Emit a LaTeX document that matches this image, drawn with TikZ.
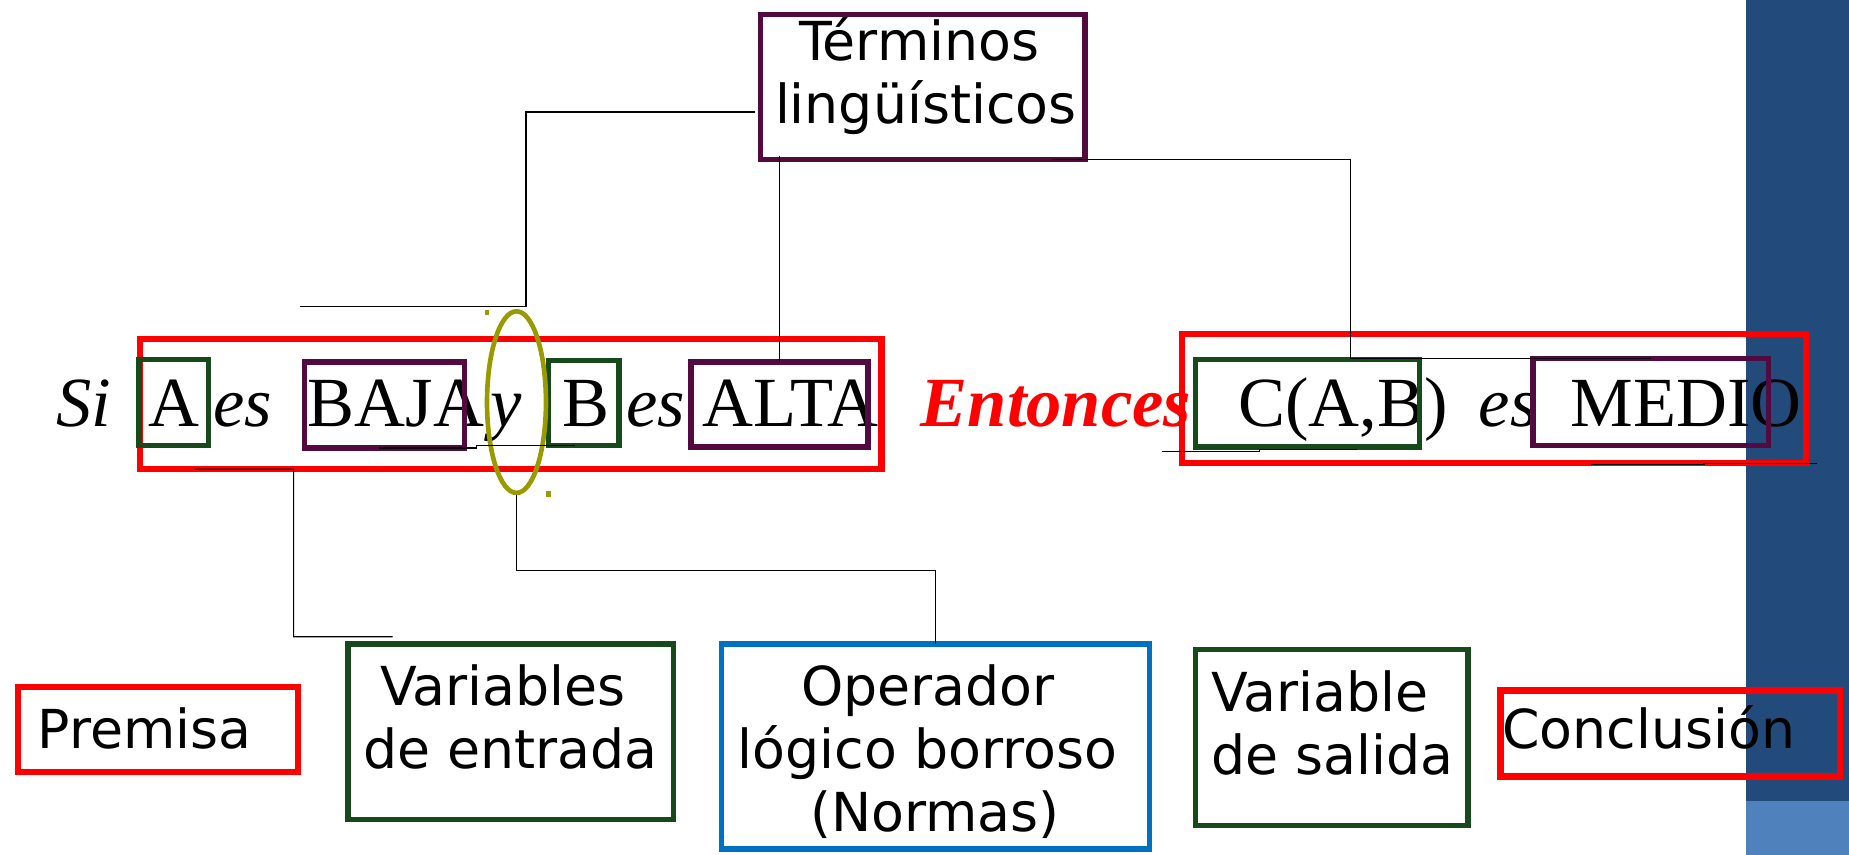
\documentclass[tikz,border=0pt]{standalone}
\usepackage{fontspec}
\setmainfont{DejaVu Sans}
\newfontfamily\tnr{Liberation Serif}
\usetikzlibrary{calc,shapes.geometric}
\definecolor{purp}{HTML}{520A40}
\definecolor{dgreen}{HTML}{174A1A}
\definecolor{olivec}{HTML}{999900}
\definecolor{oblue}{HTML}{0070C0}
\definecolor{bardark}{HTML}{224B7C}
\definecolor{barlight}{HTML}{4F81BD}
\newcommand\fr[6]{\node[#1, minimum width={(#4-#2)*0.025cm}, minimum height={(#5-#3)*0.025cm}] (#6) at ({(#2+#4)/2},{(#3+#5)/2}) {};}
\tikzset{
  frame/.style={draw, inner sep=0pt, outer sep=0pt, line width=3.2pt, rectangle},
  pbox/.style={frame, draw=purp},
  gbox/.style={frame, draw=dgreen},
  rbox/.style={frame, draw=red, line width=3.8pt},
  bbox/.style={frame, draw=oblue},
  sans/.style={inner sep=0pt, outer sep=0pt, anchor=base west, font=\fontsize{32.4}{38}\selectfont},
  sansc/.style={sans, anchor=base},
  serif/.style={inner sep=0pt, outer sep=0pt, anchor=base west, font=\tnr\fontsize{42.5}{50}\selectfont},
  serit/.style={serif, font=\tnr\itshape\fontsize{42.5}{50}\selectfont},
  conn/.style={draw=black, line width=0.75pt}
}
\begin{document}
\begin{tikzpicture}[x=0.025cm, y=-0.025cm]
\useasboundingbox (0,0) rectangle (1568,725);
% right bar
\fill[bardark] (1481,0) rectangle (1568,679);
\fill[barlight] (1481,679) rectangle (1568,725);

% top box
\fr{pbox}{645}{12}{920}{135}{terms}
\node[sansc] (termsA) at (779.5,51) {Términos};
\node[sansc] (termsB) at (785,105) {lingüísticos};

% rule text
\node[serit] (si) at (48,362) {Si};
\node[serif] (tA) at (126,362) {A};
\node[serit] (es1) at (181,362) {es};
\node[serif] (tBAJA) at (261,362) {BAJA};
\node[serit] (ty) at (416,362) {y};
\node[serif] (tB) at (477,362) {B};
\node[serit] (es2) at (531,362) {es};
\node[serif] (tALTA) at (596,362) {ALTA};
\node[serif, font=\tnr\bfseries\itshape\fontsize{42.5}{50}\selectfont, text=red] (ent) at (781,362) {Entonces};
\node[serif] (tC) at (1050,362) {C(A,B)};
\node[serit] (es3) at (1254,362) {es};
\node[serif] (tMED) at (1332,362) {MEDIO};

% frames in rule
\fr{rbox}{118.5}{287.5}{747.5}{397.5}{premBox}
\fr{gbox}{118}{305}{177}{378}{Abox}
\fr{pbox}{258}{307}{394}{380}{BAJAbox}
\fr{gbox}{465}{306}{525}{378}{Bbox}
\fr{pbox}{586}{307}{736}{379}{ALTAbox}
\fr{rbox}{1002.5}{283.5}{1531.5}{392.5}{concBox}
\fr{gbox}{1014}{305}{1204}{379}{Cbox}
\fr{pbox}{1300}{304}{1500}{378}{MEDIObox}
\node[ellipse, draw=olivec, line width=2.8pt, inner sep=0pt, minimum width=50*0.025cm, minimum height=154*0.025cm] (ell) at (438,341) {};
\fill[olivec] (411,262.5) rectangle (415,267.5);
\fill[olivec] (463,416.5) rectangle (467,421.5);

% bottom boxes
\fr{rbox}{15.5}{582.5}{252.5}{654.5}{premisa}
\node[sans] (premisaT) at (32,634.5) {Premisa};
\fr{gbox}{295}{546}{571}{695}{varEnt}
\node[sansc] (varEntA) at (426.5,598) {Variables};
\node[sansc] (varEntB) at (433,651.5) {de entrada};
\fr{bbox}{612}{546}{975}{720}{oper}
\node[sansc] (operA) at (787,598) {Operador};
\node[sansc] (operB) at (786.5,651.5) {lógico borroso};
\node[sansc] (operC) at (793,705) {(Normas)};
\fr{gbox}{1014}{551}{1245}{700}{varSal}
\node[sans] (varSalA) at (1027,603) {Variable};
\node[sans] (varSalB) at (1027,656.5) {de salida};
\fr{rbox}{1272.5}{585.5}{1560.5}{658.5}{concl}
\node[sans] (conclT) at (1274,635) {Conclusión};

% connectors
\coordinate (c1end) at (254,260);
\draw[conn] ($(terms.west |- 0,95)+(-5,0)$) -- (446,95) |- (c1end);
\draw[conn] (ALTAbox.north) -- (ALTAbox.north |- 0,132);
\draw[conn] ($(terms.south east)+(-28,0)$) -| ($(MEDIObox.north)+(-255,0)$) -- (MEDIObox.north);
\draw[conn] ($(premBox.south west)+(46.5,0.5)$) -- (249,398) |- ($(varEnt.north west)+(38,-6)$);
\draw[conn] (ell.south) -- ++(0,64) -| (oper.north);
% stray underlines
\coordinate (u1) at (321,380); \coordinate (u2) at (488,377.5);
\draw[conn] (u1) -- (404,380) -- (404,377.5) -- (u2);
\coordinate (u3) at (985,383); \coordinate (u4) at (1151,381);
\draw[conn] (u3) -- (1068,383) -- (1068,381) -- (u4);
\coordinate (u5) at (1349,394); \coordinate (u6) at (1541,393);
\draw[conn] (u5) -- (1445,394) -- (1445,393) -- (u6);
\end{tikzpicture}
\end{document}
